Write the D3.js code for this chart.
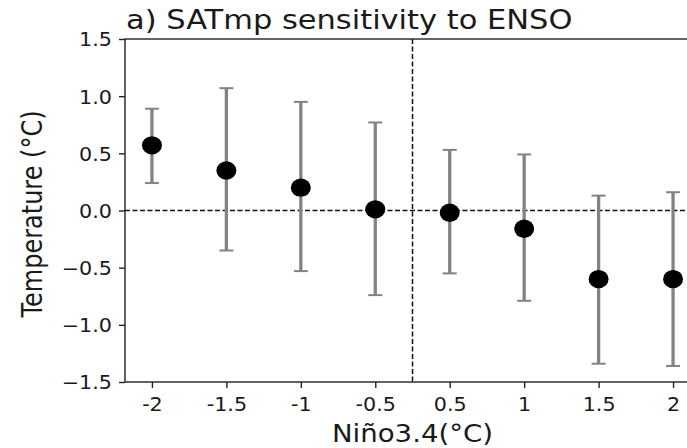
<!DOCTYPE html>
<html><head><meta charset="utf-8">
<script src="https://cdn.jsdelivr.net/npm/d3@7"></script>
<style>
html,body{margin:0;padding:0;background:#fff;}
svg text{font-family:"DejaVu Sans",sans-serif;}
</style></head>
<body><svg id="chart" width="687" height="448"></svg>
<script>
const categories = ["-2","-1.5","-1","-0.5","0.5","1","1.5","2"];
const means = [0.57, 0.35, 0.20, 0.01, -0.02, -0.16, -0.60, -0.60];
const upper = [0.89, 1.07, 0.95, 0.77, 0.53, 0.49, 0.13, 0.16];
const lower = [0.24, -0.35, -0.53, -0.74, -0.55, -0.79, -1.34, -1.36];
const yTicks = [-1.5, -1.0, -0.5, 0.0, 0.5, 1.0, 1.5];
const titleText = "a) SATmp sensitivity to ENSO";
const xLabel = "Niño3.4(°C)";
const yLabel = "Temperature (°C)";

const svg = d3.select("#chart");
const L = 125, T = 39, B = 382, R = 700;
const SX = 1.15;   // horizontal stretch of the reference image (labels)
const SXT = 1.09;  // stretch for tick labels
const x = d3.scaleLinear().domain([-0.362, 7.362]).range([L, R]);
const y = d3.scaleLinear().domain([-1.5, 1.5]).range([B, T]);
const axisColor = "#222";
const textColor = "#1a1a1a";

// reference lines
svg.append("line").attr("x1", L).attr("x2", R).attr("y1", y(0)).attr("y2", y(0))
  .attr("stroke", "#111").attr("stroke-width", 1.5).attr("stroke-dasharray", "5,2.5");
svg.append("line").attr("x1", x(3.5)).attr("x2", x(3.5)).attr("y1", T).attr("y2", B)
  .attr("stroke", "#111").attr("stroke-width", 1.5).attr("stroke-dasharray", "5,2.5");

// error bars + markers
const g = svg.append("g");
categories.forEach((c, i) => {
  const cx = x(i);
  g.append("line").attr("x1", cx).attr("x2", cx).attr("y1", y(upper[i])).attr("y2", y(lower[i]))
    .attr("stroke", "#838383").attr("stroke-width", 3.3);
  [upper[i], lower[i]].forEach(v => {
    g.append("line").attr("x1", cx - 7).attr("x2", cx + 7).attr("y1", y(v)).attr("y2", y(v))
      .attr("stroke", "#838383").attr("stroke-width", 2);
  });
  g.append("ellipse").attr("cx", cx).attr("cy", y(means[i])).attr("rx", 10).attr("ry", 9.2).attr("fill", "#000");
});

// axes
const yAxis = d3.axisLeft(y).tickValues(yTicks).tickSize(6).tickPadding(7)
  .tickFormat(d => d3.format(".1f")(d).replace("-", "\u2212"));
const ya = svg.append("g").attr("transform", `translate(${L},0)`).call(yAxis);
ya.select(".domain").remove();
ya.selectAll("line").attr("stroke", axisColor).attr("stroke-width", 1.4);
ya.selectAll("text").each(function() {
  const t = d3.select(this);
  const tx = +t.attr("x");
  t.attr("x", null).attr("dy", "0.36em")
   .attr("transform", `translate(${tx},0) scale(${SXT},1)`)
   .attr("font-size", 19).attr("fill", textColor).attr("font-family", "DejaVu Sans");
});

const xAxis = d3.axisBottom(x).tickValues(d3.range(categories.length)).tickSize(6).tickPadding(9)
  .tickFormat(i => categories[i]);
const xa = svg.append("g").attr("transform", `translate(0,${B})`).call(xAxis);
xa.select(".domain").remove();
xa.selectAll("line").attr("stroke", axisColor).attr("stroke-width", 1.4);
xa.selectAll("text").each(function() {
  const t = d3.select(this);
  const ty = +t.attr("y");
  t.attr("y", null).attr("transform", `translate(0,${ty}) scale(${SXT},1)`)
   .attr("font-size", 19).attr("fill", textColor).attr("font-family", "DejaVu Sans");
});

// spines
svg.append("rect").attr("x", L).attr("y", T).attr("width", R - L).attr("height", B - T)
  .attr("fill", "none").attr("stroke", axisColor).attr("stroke-width", 1.4);

// labels
svg.append("text").attr("transform", `translate(${L + 1},29) scale(${SX},1)`)
  .attr("font-size", 26.5).attr("fill", textColor).text(titleText);
svg.append("text").attr("transform", `translate(${x(3.5)},442) scale(${SX},1)`)
  .attr("text-anchor", "middle").attr("font-size", 24).attr("fill", textColor).text(xLabel);
svg.append("text").attr("transform", `translate(42,214) scale(${SX},1) rotate(-90)`)
  .attr("text-anchor", "middle").attr("font-size", 24).attr("fill", textColor).text(yLabel);
</script></body></html>
